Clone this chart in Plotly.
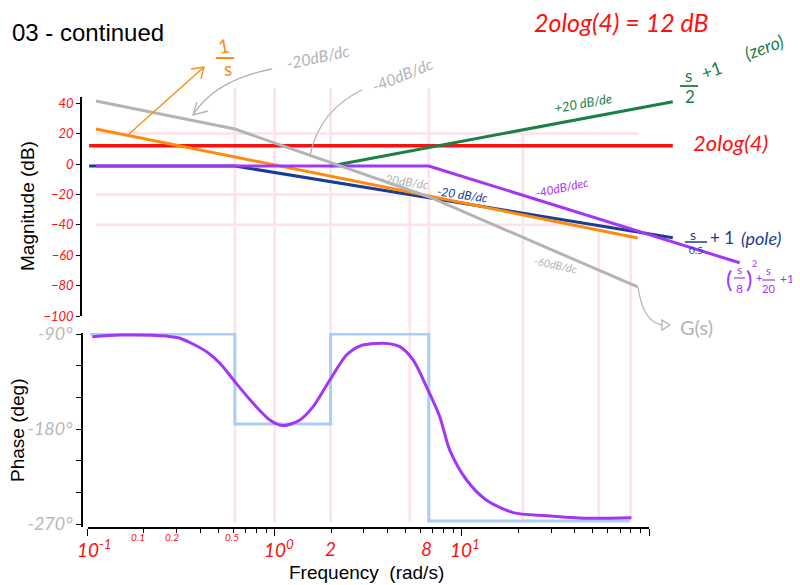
import math
import plotly.graph_objects as go

# the page body adds an 8px margin, so the figure is drawn 8px in from the corner
OFF = 8
FW, FH = 800 - OFF, 585 - OFF

# ---------------- data ----------------
# magnitude asymptotes: frequency (rad/s) and dB
w_gain = [0.102, 134.0]
db_gain = [12.0, 12.0]
w_zero = [1.99, 134.0]
db_zero = [-1.3, 41.0]
w_pole = [0.102, 0.613, 134.0]
db_pole = [-1.3, -1.3, -48.5]
w_integ = [0.111, 87.0]
db_integ = [23.0, -48.7]
w_quad = [0.111, 6.66, 305.0]
db_quad = [-1.3, -1.3, -65.0]
w_G = [0.111, 0.613, 6.7, 87.0]
db_G = [41.4, 23.0, -21.7, -80.9]

# phase: straight-line approximation and sketched curve
w_ph_asym = [0.103, 0.613, 0.613, 1.99, 1.99, 6.66, 6.66, 78.8]
ph_asym = [-90, -90, -175.3, -175.3, -90, -90, -267.2, -267.2]
w_ph = [0.106, 0.149, 0.265, 0.312, 0.433, 0.51, 0.613, 0.767, 0.942, 1.11,
        1.363, 1.606, 1.971, 2.42, 2.85, 3.8, 4.66, 5.49, 6.47, 7.62,
        8.61, 10.6, 13.5, 18.8, 28.3, 46.3, 80.5]
ph = [-92.6, -91.0, -92.0, -94.0, -106.8, -117.7, -135.2, -155.6, -171.4, -176.8,
      -171.4, -158.8, -133.6, -109.9, -101.4, -98.8, -102.0, -114.6, -139.9, -168.3,
      -199.8, -228.3, -247.2, -259.2, -262.1, -264.5, -264.0]

# axis ticks / labels
mag_ticks = [40, 20, 0, -20, -40, -60, -80, -100]
phase_ticks = [-90, -180, -270]
phase_ticktext = ["-90°", "-180°", "-270°"]
phase_minor = [-120, -150, -210, -240]
freq_major = [0.1, 1, 10, 100]
freq_minor = [0.2, 0.3, 0.4, 0.5, 0.6, 0.7, 0.8, 0.9, 2, 3, 4, 5, 6, 7, 8, 9,
              20, 30, 40, 50, 60, 70, 80, 90]
# hand-written frequency labels (where they are written)
freq_label_pos = [0.108, 0.186, 0.283, 0.593, 1.06, 1.99, 6.47, 10.4, 110]
freq_label_text = ["10<sup>-1</sup>", "0.1", "0.2", "0.5", "10<sup>0</sup>", "2", "8",
                   "10<sup>1</sup>", "10<sup>2</sup>"]
freq_label_big = [True, False, False, False, True, True, True, True, True]

# hand-drawn guide lines
grid_w = [0.613, 1.0, 1.99, 5.27, 6.66, 21.2, 53.8, 79.8]
grid_w_top_db = [50, 50, 50, -20, 50, 20, -40, -40]
grid_db = [20, -20, -40]
grid_db_wend = [88.0, 5.27, 79.8]

# ---------------- colours ----------------
RED = "#ff1010"
PURPLE = "#a336f5"
NAVY = "#1b3c93"
ORANGE = "#ff8a0d"
GRAY = "#b4b4b4"
GREEN = "#1b8048"
LBLUE = "#a9cdf8"
PINK = "#fde3e8"
HAND = "Lato"


def px(x):
    return (x - OFF) / FW


def py(y):
    return 1 - (y - OFF) / FH


# ---------------- layout geometry ----------------
X0_PX, X_DEC_PX = 87.5, (649 - 87.5) / 3.0
MAG_DOM = [py(316), py(97)]
MAG_RANGE = [-100, 44.08]
PH_DOM = [py(527), py(333)]
PH_RANGE = [-272.84, -89.05]
X1_RIGHT = 770
X1_TOP = -1 + (X1_RIGHT - X0_PX) / X_DEC_PX


def mag_paper(db):
    return MAG_DOM[0] + (db - MAG_RANGE[0]) / (MAG_RANGE[1] - MAG_RANGE[0]) * (MAG_DOM[1] - MAG_DOM[0])


def ph_paper(deg):
    return PH_DOM[0] + (deg - PH_RANGE[0]) / (PH_RANGE[1] - PH_RANGE[0]) * (PH_DOM[1] - PH_DOM[0])


fig = go.Figure()

# phase (bottom)
fig.add_trace(go.Scatter(x=w_ph_asym, y=ph_asym, xaxis="x2", yaxis="y2", mode="lines",
                         line=dict(color=LBLUE, width=3), showlegend=False))
fig.add_trace(go.Scatter(x=w_ph, y=ph, xaxis="x2", yaxis="y2", mode="lines",
                         line=dict(color=PURPLE, width=3, shape="spline", smoothing=0.8),
                         showlegend=False))

# magnitude (top)
for wx, dy, col, lw in [(w_gain, db_gain, RED, 3.5), (w_pole, db_pole, NAVY, 3),
                        (w_zero, db_zero, GREEN, 3), (w_integ, db_integ, ORANGE, 3),
                        (w_quad, db_quad, PURPLE, 3), (w_G, db_G, GRAY, 3)]:
    fig.add_trace(go.Scatter(x=wx, y=dy, xaxis="x", yaxis="y", mode="lines",
                             line=dict(color=col, width=lw), showlegend=False))

shapes = []
for w, top in zip(grid_w, grid_w_top_db):
    shapes.append(dict(type="line", xref="x2", yref="paper", x0=w, x1=w,
                       y0=ph_paper(-268.1), y1=mag_paper(top),
                       line=dict(color=PINK, width=2.5), layer="below"))
for d, wend in zip(grid_db, grid_db_wend):
    shapes.append(dict(type="line", xref="x", yref="y", x0=0.111, x1=wend, y0=d, y1=d,
                       line=dict(color=PINK, width=2.5), layer="below"))


def P(x, y):
    return f"{px(x):.5f},{py(y):.5f}"


def path(d, color, width=1.3):
    shapes.append(dict(type="path", xref="paper", yref="paper", path=d,
                       line=dict(color=color, width=width)))


# gray arrow from "-20dB/dc" to the gray line
path(f"M{P(272,69)} Q{P(215,80)} {P(193,115)}", GRAY)
path(f"M{P(197,102)} L{P(193,115)} L{P(208,111)}", GRAY)
# gray curve from "-40dB/dc"
path(f"M{P(362,90)} Q{P(320,110)} {P(310,155)}", GRAY)
# orange arrow to 1/s
path(f"M{P(129,134)} L{P(204,67)}", ORANGE)
path(f"M{P(191,69)} L{P(204,67)} L{P(201,79)}", ORANGE)
# gray arrow to G(s)
path(f"M{P(638,287)} Q{P(643,322)} {P(662,325)}", GRAY)
path(f"M{P(662,320)} L{P(670,325)} L{P(662,330)} Z", GRAY)


def bar(x0, x1, y, color, width=1.5):
    shapes.append(dict(type="line", xref="paper", yref="paper",
                       x0=px(x0), x1=px(x1), y0=py(y), y1=py(y),
                       line=dict(color=color, width=width)))


bar(216, 234, 58, ORANGE, 2)
bar(680, 698, 86, GREEN, 1.8)
bar(685, 707, 242, NAVY, 1.5)
bar(734, 745, 278, PURPLE, 1.2)
bar(762, 775, 280, PURPLE, 1.2)

annotations = []


def txt(t, x, y, size, color, angle=0, family=HAND, italic=False, xanchor="center"):
    annotations.append(dict(text=t, x=px(x), y=py(y), xref="paper", yref="paper",
                            showarrow=False, textangle=angle, xanchor=xanchor, yanchor="middle",
                            font=dict(family=family, size=size, color=color,
                                      style="italic" if italic else "normal")))


# title and axis titles
txt("03 - continued", 10, 33, 24, "black", family="Liberation Sans", xanchor="left")
txt("Magnitude (dB)", 27, 206, 19, "black", angle=-90, family="Liberation Sans")
txt("Phase (deg)", 17, 430, 19, "black", angle=-90, family="Liberation Sans")
txt("Frequency  (rad/s)", 366, 572, 19, "black", family="Liberation Sans")

# hand-written notes
txt("2olog(4) = 12 dB", 621, 22, 25, RED, italic=True)
txt("2olog(4)", 730, 142, 22, RED, italic=True)
txt("1", 224, 45, 19, ORANGE, angle=-10)
txt("s", 228, 68, 19, ORANGE)
txt("-20dB/dc", 318, 57, 16, GRAY, angle=-12, italic=True)
txt("-40dB/dc", 402, 74, 16, GRAY, angle=-22, italic=True)
txt("+20 dB/de", 583, 103, 13, GREEN, angle=-10, italic=True)
txt("s", 688, 75, 17, GREEN)
txt("2", 690, 96, 17, GREEN)
txt("+1", 711, 70, 18, GREEN, angle=-20)
txt("(zero)", 764, 47, 18, GREEN, angle=-20, italic=True)
txt("-20dB/dc", 405, 181, 12, GRAY, angle=8, italic=True)
txt("-20 dB/dc", 462, 195, 12, NAVY, angle=8, italic=True)
txt("-40dB/dec", 562, 187, 12, PURPLE, angle=-12, italic=True)
txt("-60dB/dc", 555, 264, 11, GRAY, angle=12, italic=True)
txt("s", 693, 234, 14, NAVY)
txt("0.5", 696, 250, 10, NAVY)
txt("+ 1", 722, 238, 17, NAVY)
txt("(pole)", 761, 238, 18, NAVY, italic=True)
txt("(", 729, 278, 24, PURPLE)
txt("s", 739, 270, 12, PURPLE)
txt("8", 739, 288, 12, PURPLE)
txt(")", 749, 278, 24, PURPLE)
txt("2", 754, 263, 9, PURPLE)
txt("+", 759, 277, 11, PURPLE)
txt("s", 768, 271, 11, PURPLE)
txt("20", 768, 288, 11, PURPLE)
txt("+1", 787, 278, 12, PURPLE)
txt("G(s)", 696, 327, 20, GRAY)

# hand-written frequency labels
for pos, t, big in zip(freq_label_pos, freq_label_text, freq_label_big):
    annotations.append(dict(text=t, x=math.log10(pos), xref="x2",
                            y=py(548 if big else 537), yref="paper", showarrow=False,
                            xanchor="center", yanchor="middle",
                            font=dict(family=HAND, size=19 if big else 10, color=RED,
                                      style="italic")))

fig.update_layout(
    width=FW, height=FH, template="none",
    margin=dict(l=0, r=0, t=0, b=0),
    paper_bgcolor="white", plot_bgcolor="rgba(0,0,0,0)",
    showlegend=False,
    shapes=shapes, annotations=annotations,
    xaxis=dict(type="log", domain=[px(X0_PX), px(X1_RIGHT)], range=[-1, X1_TOP], anchor="y",
               visible=False, automargin=False),
    yaxis=dict(domain=MAG_DOM, range=MAG_RANGE, anchor="free", position=px(81),
               showgrid=False, zeroline=False, showline=True, linecolor="black", linewidth=1.5,
               ticks="outside", ticklen=4, tickcolor="black", tickvals=mag_ticks,
               tickfont=dict(family=HAND, size=13, color=RED, style="italic"),
               automargin=False),
    xaxis2=dict(type="log", domain=[px(X0_PX), px(649)], range=[-1, 2], anchor="y2",
                showgrid=False, zeroline=False, showline=True, linecolor="black", linewidth=1.5,
                ticks="outside", ticklen=7, tickcolor="black", tickvals=freq_major,
                showticklabels=False,
                minor=dict(tickvals=freq_minor, ticks="outside", ticklen=4, tickcolor="black",
                           showgrid=False),
                automargin=False),
    yaxis2=dict(domain=PH_DOM, range=PH_RANGE, anchor="free", position=px(82),
                showgrid=False, zeroline=False, showline=True, linecolor="black", linewidth=1.5,
                ticks="outside", ticklen=5, tickcolor="black", tickvals=phase_ticks,
                ticktext=phase_ticktext,
                minor=dict(tickvals=phase_minor, ticks="outside", ticklen=5, tickcolor="black",
                           showgrid=False),
                tickfont=dict(family=HAND, size=18, color="#b8b8b8", style="italic"),
                automargin=False),
)

fig.write_html("out.html")
